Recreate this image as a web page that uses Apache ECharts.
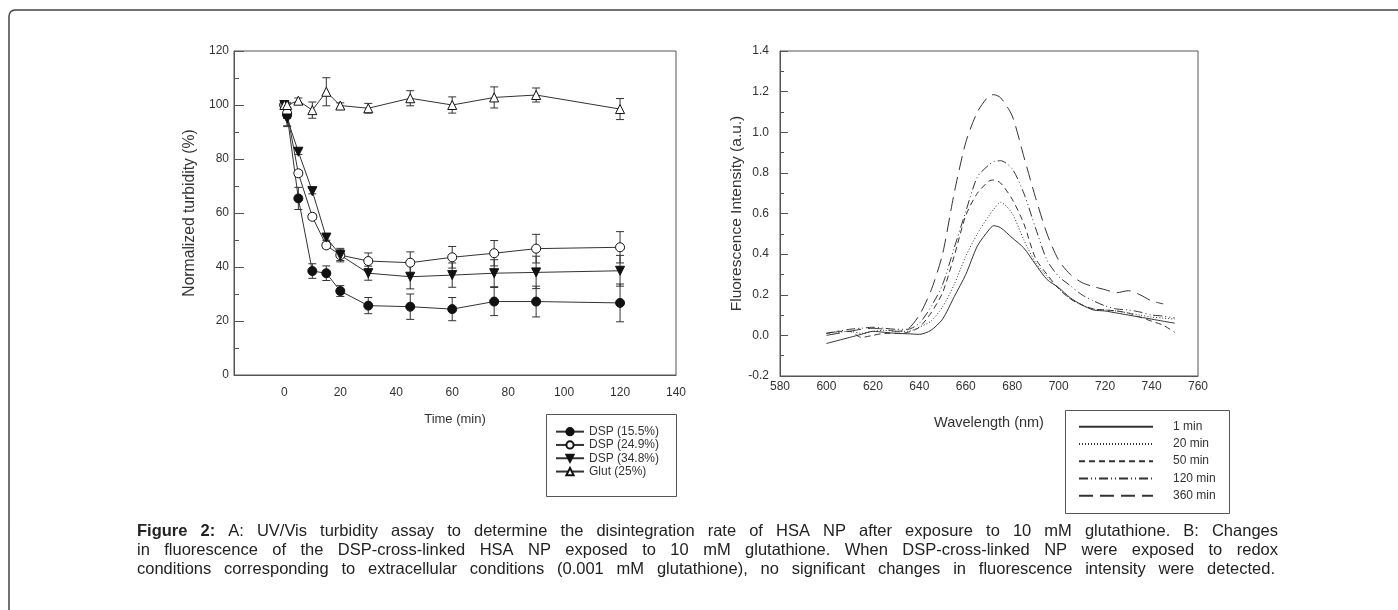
<!DOCTYPE html>
<html>
<head>
<meta charset="utf-8">
<script src="https://cdn.jsdelivr.net/npm/echarts@6/dist/echarts.min.js"></script>
<style>
  html, body { margin: 0; padding: 0; background: #fff; }
  #main { width: 1398px; height: 610px; }
</style>
</head>
<body>
<div id="main"></div>
<script>
// A: turbidity vs time
var timeMin = [0, 1, 5, 10, 15, 20, 30, 45, 60, 75, 90, 120];
var dsp155 = [100, 96.3, 65.4, 38.5, 37.7, 31.1, 25.7, 25.3, 24.4, 27.2, 27.2, 26.7];
var dsp155Err = [1, 4, 4.1, 2.7, 2.7, 2, 3, 4.7, 4.3, 5.2, 5.7, 7];
var dsp249 = [100, 97, 74.7, 58.6, 48.0, 44.4, 42.2, 41.6, 43.6, 45.1, 46.8, 47.3];
var dsp249Err = [1, 2, 1, 1, 1, 2, 3, 4, 4, 4.7, 5.3, 5.8];
var dsp348 = [100, 95, 82.7, 68.1, 50.9, 44.4, 37.7, 36.4, 37.0, 37.7, 38.0, 38.6];
var dsp348Err = [1, 3, 1, 1, 1, 2.5, 2.6, 4.5, 4.5, 5, 6, 5.7];
var glut25 = [100, 100, 101.6, 98.1, 104.9, 99.8, 98.8, 102.5, 100.0, 102.8, 103.7, 98.5];
var glut25Err = [1, 1, 1, 3, 5.2, 1, 1.8, 2.8, 3, 3.9, 2.6, 3.9];
var timeTicks = [0, 20, 40, 60, 80, 100, 120, 140];

// B: fluorescence spectra
var wavelength = [600, 605, 610, 615, 620, 625, 630, 635, 640, 645, 650, 655, 660, 665, 670, 672,
                  675, 680, 685, 690, 695, 700, 705, 710, 715, 720, 725, 730, 735, 740, 745, 750];
var fl1min = [-0.04, -0.025, -0.01, 0.005, 0.02, 0.015, 0.01, 0.008, 0.005, 0.025, 0.08, 0.19, 0.30, 0.44, 0.52, 0.54,
              0.53, 0.48, 0.43, 0.35, 0.275, 0.235, 0.185, 0.15, 0.125, 0.12, 0.11, 0.1, 0.09, 0.08, 0.07, 0.06];
var fl20min = [0.01, 0.015, 0.02, 0.01, 0.02, 0.025, 0.02, 0.02, 0.04, 0.07, 0.14, 0.25, 0.39, 0.5, 0.59, 0.62,
               0.655, 0.6, 0.47, 0.36, 0.29, 0.23, 0.18, 0.15, 0.13, 0.125, 0.12, 0.11, 0.1, 0.09, 0.085, 0.08];
var fl50min = [0.01, 0.02, 0.02, -0.01, 0.0, 0.01, 0.01, 0.015, 0.04, 0.11, 0.21, 0.39, 0.59, 0.7, 0.76, 0.765,
               0.75, 0.67, 0.55, 0.38, 0.3, 0.23, 0.18, 0.15, 0.13, 0.125, 0.12, 0.11, 0.09, 0.07, 0.05, 0.015];
var fl120min = [0.01, 0.02, 0.03, 0.035, 0.04, 0.035, 0.03, 0.03, 0.06, 0.14, 0.25, 0.43, 0.61, 0.78, 0.84, 0.855,
                0.86, 0.82, 0.7, 0.53, 0.37, 0.29, 0.245, 0.2, 0.17, 0.145, 0.13, 0.125, 0.115, 0.1, 0.095, 0.085];
var fl360min = [0.0, 0.01, 0.02, 0.03, 0.035, 0.03, 0.02, 0.03, 0.1, 0.22, 0.4, 0.7, 0.95, 1.1, 1.18, 1.185,
                1.17, 1.08, 0.88, 0.68, 0.5, 0.37, 0.3, 0.26, 0.24, 0.225, 0.21, 0.22, 0.2, 0.17, 0.155, null];

var captionLines = [
  'Figure 2: A: UV/Vis turbidity assay to determine the disintegration rate of HSA NP after exposure to 10 mM glutathione. B: Changes',
  'in fluorescence of the DSP-cross-linked HSA NP exposed to 10 mM glutathione. When DSP-cross-linked NP were exposed to redox',
  'conditions corresponding to extracellular conditions (0.001 mM glutathione), no significant changes in fluorescence intensity were detected.'
];

var FONT = "'Liberation Sans', Arial, sans-serif";
var INK = '#333';
var FRAME = '#555';

var chart = echarts.init(document.getElementById('main'));

function pairs(xs, ys) {
  return xs.map(function (x, i) { return [x, ys[i]]; });
}

function turbSeries(name, vals, symbol, fill, rotate) {
  return {
    type: 'line', name: name, xAxisIndex: 0, yAxisIndex: 0,
    data: pairs(timeMin, vals),
    symbol: symbol, symbolSize: 9, symbolRotate: rotate || 0,
    showAllSymbol: true, silent: true, z: 3,
    lineStyle: { color: INK, width: 1 },
    itemStyle: { color: fill, borderColor: '#111', borderWidth: 1 },
    emphasis: { disabled: true }
  };
}

function errorBars(vals, errs) {
  return {
    type: 'custom', xAxisIndex: 0, yAxisIndex: 0, z: 2, silent: true,
    data: timeMin.map(function (t, i) { return [t, vals[i], errs[i]]; }),
    renderItem: function (params, api) {
      var top = api.coord([api.value(0), api.value(1) + api.value(2)]);
      var bot = api.coord([api.value(0), api.value(1) - api.value(2)]);
      var w = 4;
      var st = { stroke: INK, lineWidth: 1 };
      return {
        type: 'group', children: [
          { type: 'line', shape: { x1: top[0], y1: top[1], x2: bot[0], y2: bot[1] }, style: st },
          { type: 'line', shape: { x1: top[0] - w, y1: top[1], x2: top[0] + w, y2: top[1] }, style: st },
          { type: 'line', shape: { x1: bot[0] - w, y1: bot[1], x2: bot[0] + w, y2: bot[1] }, style: st }
        ]
      };
    }
  };
}

function specSeries(name, vals, dash) {
  return {
    type: 'line', name: name, xAxisIndex: 1, yAxisIndex: 1,
    data: pairs(wavelength, vals), symbol: 'none', smooth: 0.25, silent: true,
    lineStyle: { color: INK, width: 1, type: dash },
    itemStyle: { color: INK },
    emphasis: { disabled: true }
  };
}

// justified caption, one text element per word
var CAP_SIZE = 16.5;
var capX = 137, capEnd = [1278, 1278, 1275], capY = [531, 550, 569];
var ctx = document.createElement('canvas').getContext('2d');
var captionGraphics = [];
captionLines.forEach(function (line, li) {
  var words = line.split(' ');
  var bold = words.map(function (w, wi) { return li === 0 && wi < 2; });
  var widths = words.map(function (w, wi) {
    ctx.font = (bold[wi] ? 'bold ' : '') + CAP_SIZE + 'px ' + FONT;
    return ctx.measureText(w).width;
  });
  var total = widths.reduce(function (a, b) { return a + b; }, 0);
  var gap = (capEnd[li] - capX - total) / (words.length - 1);
  var x = capX;
  words.forEach(function (w, wi) {
    captionGraphics.push({
      type: 'text', x: x, y: capY[li], silent: true,
      style: {
        text: w, fill: '#222', fontSize: CAP_SIZE, fontFamily: FONT,
        fontWeight: bold[wi] ? 'bold' : 'normal', verticalAlign: 'middle'
      }
    });
    x += widths[wi] + gap;
  });
});

var axisText = { color: INK, fontSize: 12, fontFamily: FONT };
function nameText(size) {
  return { color: INK, fontSize: size, fontFamily: FONT };
}

chart.setOption({
  animation: false,
  backgroundColor: '#fff',
  grid: [
    { left: 234, top: 51, width: 442, height: 324, show: true, borderColor: FRAME, borderWidth: 1 },
    { left: 780, top: 51, width: 418, height: 325, show: true, borderColor: FRAME, borderWidth: 1 }
  ],
  xAxis: [
    {
      type: 'value', gridIndex: 0, min: -18, max: 140,
      name: 'Time (min)', nameLocation: 'middle', nameGap: 38, nameTextStyle: nameText(13),
      axisLine: { onZero: false, lineStyle: { color: FRAME } },
      axisTick: { show: false, customValues: timeTicks },
      axisLabel: Object.assign({ customValues: timeTicks, margin: 12 }, axisText),
      splitLine: { show: false }
    },
    {
      type: 'value', gridIndex: 1, min: 580, max: 760, interval: 20,
      name: 'Wavelength (nm)', nameLocation: 'middle', nameGap: 39, nameTextStyle: nameText(14.5),
      axisLine: { onZero: false, lineStyle: { color: FRAME } },
      axisTick: { show: false },
      axisLabel: Object.assign({ margin: 5 }, axisText),
      splitLine: { show: false }
    }
  ],
  yAxis: [
    {
      type: 'value', gridIndex: 0, min: 0, max: 120, interval: 20,
      name: 'Normalized turbidity (%)', nameLocation: 'middle', nameGap: 36, nameTextStyle: nameText(15.7),
      axisLine: { show: true, onZero: false, lineStyle: { color: FRAME } },
      axisTick: { show: true, inside: true, length: 10, lineStyle: { color: FRAME } },
      minorTick: { show: true, splitNumber: 2, length: 5, lineStyle: { color: FRAME } },
      axisLabel: Object.assign({ margin: 5 }, axisText),
      splitLine: { show: false }
    },
    {
      type: 'value', gridIndex: 1, min: -0.2, max: 1.4, interval: 0.2,
      name: 'Fluorescence Intensity (a.u.)', nameLocation: 'middle', nameGap: 35, nameTextStyle: nameText(15.5),
      axisLine: { show: true, onZero: false, lineStyle: { color: FRAME } },
      axisTick: { show: true, inside: true, length: 8, lineStyle: { color: FRAME } },
      minorTick: { show: true, splitNumber: 2, length: 4, lineStyle: { color: FRAME } },
      axisLabel: Object.assign({
        margin: 11,
        formatter: function (v) { return Math.abs(v) < 1e-9 ? '0.0' : v.toFixed(1); }
      }, axisText),
      splitLine: { show: false }
    }
  ],
  legend: [
    {
      left: 555, top: 425, orient: 'vertical', padding: 0,
      data: ['DSP (15.5%)', 'DSP (24.9%)', 'DSP (34.8%)', 'Glut (25%)'],
      itemWidth: 28, itemHeight: 9, itemGap: 0, selectedMode: false,
      textStyle: { color: INK, fontSize: 12, fontFamily: FONT, lineHeight: 13.3 }
    },
    {
      left: 1078, top: 418, orient: 'vertical', padding: 0,
      data: ['1 min', '20 min', '50 min', '120 min', '360 min'],
      itemWidth: 74, itemHeight: 10, itemGap: 0, selectedMode: false,
      itemStyle: { opacity: 0 },
      textStyle: { color: INK, fontSize: 12, fontFamily: FONT, lineHeight: 17.25, padding: [0, 0, 0, 15] }
    }
  ],
  graphic: [
    { type: 'rect', silent: true, shape: { x: 9, y: 10, width: 1420, height: 640, r: 6 },
      style: { fill: 'none', stroke: '#444', lineWidth: 1.5 } },
    { type: 'rect', silent: true, shape: { x: 546.5, y: 414.5, width: 130, height: 82 },
      style: { fill: 'none', stroke: FRAME, lineWidth: 1 } },
    { type: 'rect', silent: true, shape: { x: 1065.5, y: 410.5, width: 164, height: 103 },
      style: { fill: 'none', stroke: FRAME, lineWidth: 1 } }
  ].concat(captionGraphics),
  series: [
    errorBars(dsp155, dsp155Err),
    errorBars(dsp249, dsp249Err),
    errorBars(dsp348, dsp348Err),
    errorBars(glut25, glut25Err),
    turbSeries('DSP (15.5%)', dsp155, 'circle', '#111'),
    turbSeries('DSP (24.9%)', dsp249, 'circle', '#fff'),
    turbSeries('DSP (34.8%)', dsp348, 'triangle', '#111', 180),
    turbSeries('Glut (25%)', glut25, 'triangle', '#fff'),
    specSeries('1 min', fl1min, 'solid'),
    specSeries('20 min', fl20min, [1, 2]),
    specSeries('50 min', fl50min, [6, 4]),
    specSeries('120 min', fl120min, [9, 3, 1, 3, 1, 3]),
    specSeries('360 min', fl360min, [14, 7])
  ]
});
</script>
</body>
</html>
